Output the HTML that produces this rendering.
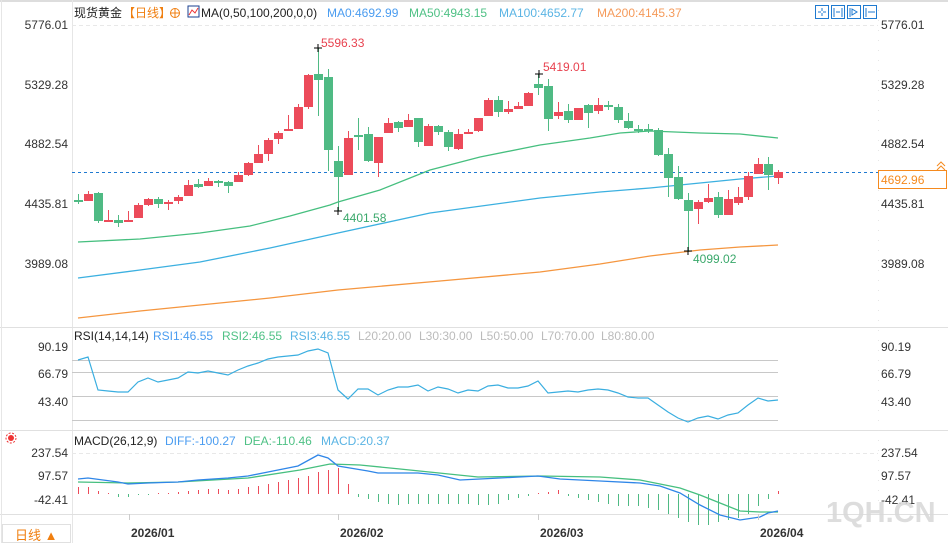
<!DOCTYPE html>
<html><head><meta charset="utf-8"><style>
body{margin:0;background:#fff;}
svg{display:block;font-family:"Liberation Sans","Noto Sans CJK SC",sans-serif;}
</style></head><body>
<svg id="s" width="948" height="543" viewBox="0 0 948 543" xmlns="http://www.w3.org/2000/svg">
<rect width="948" height="543" fill="#fff"/>
<line x1="0" y1="1" x2="948" y2="1" stroke="#ddd" stroke-width="2"/>
<!-- frame lines -->
<line x1="72.5" y1="0" x2="72.5" y2="543" stroke="#e6e6e6"/>
<line x1="878.5" y1="0" x2="878.5" y2="515" stroke="#e6e6e6" stroke-dasharray="1,9"/>
<line x1="0" y1="327.5" x2="948" y2="327.5" stroke="#e0e0e0"/>
<line x1="0" y1="430.5" x2="948" y2="430.5" stroke="#e0e0e0"/>
<line x1="0" y1="514.5" x2="948" y2="514.5" stroke="#e0e0e0"/>
<line x1="1.5" y1="0" x2="1.5" y2="543" stroke="#e6e6e6"/>
<line x1="72" y1="25.5" x2="878" y2="25.5" stroke="#e8e8e8" stroke-dasharray="4,3"/>
<!-- main axis labels -->
<g font-size="12" fill="#333">
<text x="68" y="29" text-anchor="end">5776.01</text>
<text x="68" y="89" text-anchor="end">5329.28</text>
<text x="68" y="148" text-anchor="end">4882.54</text>
<text x="68" y="208" text-anchor="end">4435.81</text>
<text x="68" y="268" text-anchor="end">3989.08</text>
<text x="881" y="29">5776.01</text>
<text x="881" y="89">5329.28</text>
<text x="881" y="148">4882.54</text>
<text x="881" y="208">4435.81</text>
<text x="881" y="268">3989.08</text>
</g>
<!-- legend -->
<g font-size="12">
<text x="74" y="17" fill="#222">现货黄金</text>
<text x="123" y="17" fill="#f07f10">【日线】</text>
<circle cx="175" cy="13" r="4.5" fill="none" stroke="#f07f10"/>
<line x1="170" y1="13" x2="180" y2="13" stroke="#f07f10"/><line x1="175" y1="8" x2="175" y2="18" stroke="#f07f10"/>
<rect x="188" y="6" width="11" height="11" fill="#fff" stroke="#1a3f8f"/>
<polyline points="189,15 192,10 195,13 198,8" fill="none" stroke="#e33" stroke-width="1"/>
<text x="201" y="17" fill="#222">MA(0,50,100,200,0,0)</text>
<text x="327" y="17" fill="#4a9cf0">MA0:4692.99</text>
<text x="409" y="17" fill="#4fc185">MA50:4943.15</text>
<text x="499" y="17" fill="#5ab4e4">MA100:4652.77</text>
<text x="597" y="17" fill="#f59a5a">MA200:4145.37</text>
</g>
<!-- toolbar icons -->
<g fill="none" stroke="#1f7ad0">
<rect x="815.5" y="5.5" width="13" height="13"/><rect x="831.5" y="5.5" width="13" height="13"/><rect x="847.5" y="5.5" width="13" height="13"/><rect x="863.5" y="5.5" width="13" height="13"/>
<path d="M822 8v3M822 13v3M818 12h3M823 12h3M834 8v9M842 8v9M836 12h4M850 8v9M852 9l5 3-5 3zM866 8v9M868 12h7"/>
</g>
<!-- MA lines -->
<polyline fill="none" stroke="#f5963f" stroke-width="1.3" points="78,318 140,311 200,305 270,298 338,290 440,281 540,272 600,264 650,256 700,250 740,247 778,245"/>
<polyline fill="none" stroke="#3cb0e0" stroke-width="1.3" points="78,278 140,270 200,262 270,248 338,233 430,213 540,198 600,192 650,188 700,183 740,179 778,176"/>
<polyline fill="none" stroke="#46bf7f" stroke-width="1.3" points="78,242 140,239 200,233 250,226 290,216 330,205 338,202 380,190 430,170 480,157 540,145 590,138 620,133 650,131 700,133 740,134 778,138"/>
<line x1="72" y1="172.5" x2="878" y2="172.5" stroke="#1f7ad0" stroke-dasharray="3,3"/>
<g id="candles"></g>
<!-- annotations -->
<g font-size="12">
<text x="321" y="47" fill="#e8424f">5596.33</text>
<path d="M314 48h8M318 44v8" stroke="#000"/>
<text x="543" y="71" fill="#e8424f">5419.01</text>
<path d="M535 74h8M539 70v8" stroke="#000"/>
<text x="343" y="222" fill="#3aa86b">4401.58</text>
<path d="M334 211h8M338 207v8" stroke="#000"/>
<text x="693" y="263" fill="#3aa86b">4099.02</text>
<path d="M684 251h8M688 247v8" stroke="#000"/>
</g>
<!-- price box -->
<rect x="878.5" y="170.5" width="68" height="18" fill="#fff" stroke="#f58a1e"/>
<text x="881" y="184" font-size="12" fill="#f58a1e">4692.96</text>
<path d="M937 166l4-4 4 4M937 170l4-4 4 4" fill="none" stroke="#f58a1e"/>
<!-- RSI -->
<g stroke="#c8c8c8"><line x1="72" y1="360.5" x2="778" y2="360.5"/><line x1="72" y1="372.5" x2="778" y2="372.5"/><line x1="72" y1="396.5" x2="778" y2="396.5"/><line x1="72" y1="420.5" x2="778" y2="420.5"/></g>
<g font-size="12">
<text x="74" y="340" fill="#222">RSI(14,14,14)</text>
<text x="153" y="340" fill="#4a9cf0">RSI1:46.55</text>
<text x="222" y="340" fill="#4fc185">RSI2:46.55</text>
<text x="290" y="340" fill="#5ab4e4">RSI3:46.55</text>
<text x="358" y="340" fill="#bbb">L20:20.00</text>
<text x="419" y="340" fill="#bbb">L30:30.00</text>
<text x="480" y="340" fill="#bbb">L50:50.00</text>
<text x="541" y="340" fill="#bbb">L70:70.00</text>
<text x="601" y="340" fill="#bbb">L80:80.00</text>
<g fill="#333"><text x="68" y="351" text-anchor="end">90.19</text><text x="68" y="378" text-anchor="end">66.79</text><text x="68" y="406" text-anchor="end">43.40</text>
<text x="881" y="351">90.19</text><text x="881" y="378">66.79</text><text x="881" y="406">43.40</text></g>
</g>
<polyline fill="none" stroke="#3aaee0" stroke-width="1.2" points="78,360 88,357 98,390 108,391 118,392 128,392 138,382 148,378 158,382 168,380 178,378 188,372 198,373 208,371 218,373 228,375 238,370 248,366 258,363 268,359 278,357 288,356 298,355 308,351 318,349 328,353 338,390 348,399 358,389 368,389 378,395 388,390 398,387 408,387 418,385 428,391 438,387 448,389 458,393 468,390 478,391 488,386 498,385 508,388 518,388 528,386 538,381 548,393 558,392 568,391 578,392 588,390 598,389 608,390 618,393 628,397 638,398 648,398 658,405 668,412 678,418 688,422 698,418 708,416 718,419 728,415 738,413 748,405 758,398 768,401 778,400"/>
<!-- MACD -->
<line x1="72" y1="453.5" x2="878" y2="453.5" stroke="#e8e8e8" stroke-dasharray="4,3"/>
<g font-size="12">
<text x="74" y="445" fill="#222">MACD(26,12,9)</text>
<text x="165" y="445" fill="#4a9cf0">DIFF:-100.27</text>
<text x="244" y="445" fill="#4fc185">DEA:-110.46</text>
<text x="321" y="445" fill="#5ab4e4">MACD:20.37</text>
<g fill="#333"><text x="68" y="457" text-anchor="end">237.54</text><text x="68" y="480" text-anchor="end">97.57</text><text x="68" y="504" text-anchor="end">-42.41</text>
<text x="881" y="457">237.54</text><text x="881" y="480">97.57</text><text x="881" y="504">-42.41</text></g>
</g>
<circle cx="11" cy="438" r="3" fill="#e33"/><circle cx="11" cy="438" r="5" fill="none" stroke="#e33" stroke-dasharray="2,1.5"/>
<g id="hist"></g>
<polyline fill="none" stroke="#46bf7f" stroke-width="1.3" points="78,482 128,483 178,482 248,478 300,470 330,464 360,465 400,469 478,477 540,476 600,477 640,480 680,488 700,495 720,503 740,511 760,512 778,512"/>
<polyline fill="none" stroke="#2f86e8" stroke-width="1.3" points="78,479 88,478 118,482 128,484 148,483 178,482 198,480 228,478 248,476 268,472 298,466 318,455 328,458 338,466 368,471 378,473 418,473 438,475 460,480 500,478 538,476 560,479 600,481 640,483 660,486 680,493 700,505 720,515 740,520 760,517 768,513 778,511"/>
<text x="826" y="522" font-size="29" font-weight="bold" fill="#d8d8d8" opacity="0.85">1QH.CN</text>
<!-- date axis -->
<g font-size="12" font-weight="bold" fill="#333">
<line x1="129.5" y1="514" x2="129.5" y2="520" stroke="#ccc"/><text x="131" y="537">2026/01</text>
<line x1="338.5" y1="514" x2="338.5" y2="520" stroke="#ccc"/><text x="340" y="537">2026/02</text>
<line x1="538.5" y1="514" x2="538.5" y2="520" stroke="#ccc"/><text x="540" y="537">2026/03</text>
<line x1="758.5" y1="514" x2="758.5" y2="520" stroke="#ccc"/><text x="760" y="537">2026/04</text>
</g>
<rect x="2.5" y="524.5" width="68" height="18" fill="#fff" stroke="#e0e0e0"/>
<text x="15" y="540" font-size="13" fill="#f07f10">日线 ▲</text>
</svg>
<script>
var R="#ec4b5a",G="#4fba84",ns="http://www.w3.org/2000/svg";
var c=[
[200,200,194,204,'g'],[194,201,191,201,'r'],[193,221,192,223,'g'],[220,221,210,221,'r'],[220,223,215,227,'g'],[220,222,211,222,'r'],[205,218,203,218,'r'],[199,205,198,206,'r'],[199,204,197,208,'g'],[202,204,200,210,'r'],[197,201,195,204,'r'],[185,196,180,196,'r'],[184,187,179,188,'g'],[181,186,178,186,'r'],[181,183,180,187,'g'],[182,186,181,193,'g'],[175,182,172,182,'r'],[163,175,162,176,'r'],[154,163,145,163,'r'],[140,154,138,161,'r'],[133,139,131,144,'r'],[129,131,115,131,'r'],[107,129,104,129,'r'],[75,107,74,109,'r'],[74,80,48,116,'g'],[77,150,69,171,'g'],[161,177,146,211,'g'],[138,175,131,175,'r'],[135,137,118,150,'g'],[134,161,127,162,'g'],[137,163,137,177,'r'],[123,133,118,133,'r'],[122,128,121,132,'g'],[120,127,114,127,'r'],[118,142,118,147,'g'],[126,146,124,146,'r'],[126,132,125,135,'g'],[132,147,130,151,'g'],[134,149,129,150,'r'],[132,134,129,134,'r'],[118,131,118,132,'r'],[100,116,98,116,'r'],[100,112,96,117,'g'],[109,112,101,114,'r'],[106,109,102,109,'r'],[93,106,92,106,'r'],[84,88,74,95,'g'],[86,119,79,131,'g'],[112,116,102,119,'r'],[111,120,104,123,'g'],[108,120,108,120,'r'],[105,113,104,128,'g'],[105,111,98,114,'r'],[105,107,101,110,'g'],[107,120,104,123,'g'],[121,128,113,129,'g'],[129,130,125,133,'g'],[129,130,124,133,'g'],[130,155,128,156,'g'],[154,178,148,197,'g'],[177,199,166,200,'g'],[200,211,193,252,'g'],[202,209,200,224,'r'],[198,202,184,203,'r'],[197,215,192,218,'g'],[199,215,190,215,'r'],[197,203,187,205,'r'],[176,197,172,200,'r'],[164,174,158,174,'r'],[164,175,157,190,'g'],[172,178,170,184,'r']];
var g=document.getElementById('candles'),h='';
c.forEach(function(d,i){var x=78+i*10,col=d[4]=='r'?R:G;
h+='<line x1="'+x+'.5" y1="'+d[2]+'" x2="'+x+'.5" y2="'+d[3]+'" stroke="'+col+'"/>';
h+='<rect x="'+(x-4)+'" y="'+d[0]+'" width="9" height="'+Math.max(2,d[1]-d[0])+'" fill="'+col+'"/>';});
g.innerHTML=h;
var hv=[7,7,3,1,-3,-3,-1,-1,1,1,1,2,3,4,4,4,4,6,7,8,10,12,14,16,18,22,25,10,-3,-5,-6,-6,-7,-8,-10,-10,-10,-10,-10,-10,-11,-11,-11,-11,-11,-8,-6,-4,-2,-1,1,2,4,-2,-2,-3,-4,-5,-6,-8,-10,-12,-15,-18,-20,-22,-25,-26,-25,-22,-20,-18,-15,-12,-8,-4,3,6];
hv=[7,7,3,1,-3,-3,-1,-1,1,1,2,3,4,5,5,4,5,7,8,10,12,14,16,18,22,24,26,10,-3,-5,-8,-10,-11,-10,-10,-10,-10,-10,-10,-10,-11,-11,-10,-6,-4,-2,1,2,4,-2,-4,-6,-8,-10,-12,-12,-12,-14,-16,-20,-24,-28,-31,-31,-28,-26,-24,-20,-12,-5,3];
h='';var z=494;
hv.forEach(function(v,i){var x=78+i*10;if(i>=c.length)return;var col=v>0?R:G;
h+='<line x1="'+x+'.5" y1="'+z+'" x2="'+x+'.5" y2="'+(z-v)+'" stroke="'+col+'"/>';});
document.getElementById('hist').innerHTML=h;
</script>
</body></html>
